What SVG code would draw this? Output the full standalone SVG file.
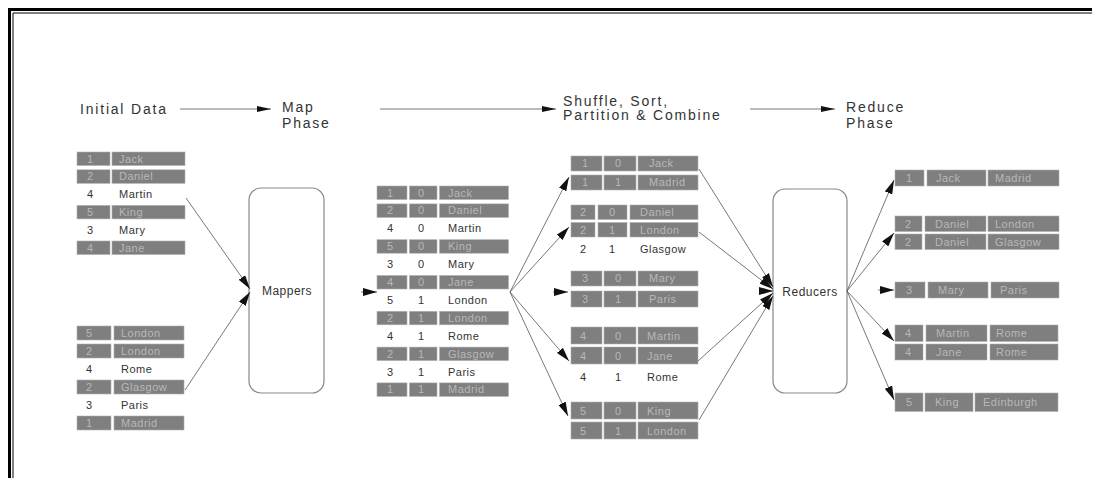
<svg xmlns="http://www.w3.org/2000/svg" width="1098" height="478" viewBox="0 0 1098 478">
<style>
.hd{font-family:"Liberation Sans",Arial,sans-serif;font-size:14px;letter-spacing:1.8px;fill:#333}
.g{fill:#7f7f7f;stroke:#b0b0b0;stroke-width:0.6}
.tg{font-family:"Liberation Sans",Arial,sans-serif;font-size:11px;letter-spacing:0.5px;fill:#b8b8b8}
.tw{font-family:"Liberation Sans",Arial,sans-serif;font-size:11px;letter-spacing:0.5px;fill:#333}
.box{fill:#fff;stroke:#888;stroke-width:1.2}
.bl{font-family:"Liberation Sans",Arial,sans-serif;font-size:12px;letter-spacing:0.5px;fill:#333;text-anchor:middle}
.c{fill:none;stroke:#555;stroke-width:0.8;marker-end:url(#ah)}
.ch{fill:none;stroke:#555;stroke-width:0.8;marker-end:url(#ah2)}
</style>
<defs>
<marker id="ah" viewBox="0 0 14 8" refX="14" refY="4" markerWidth="14" markerHeight="8" markerUnits="userSpaceOnUse" orient="auto"><path d="M0,0 L14,4 L0,8 z" fill="#111"/></marker>
<marker id="ah2" viewBox="0 0 14 6" refX="14" refY="3" markerWidth="14" markerHeight="6" markerUnits="userSpaceOnUse" orient="auto"><path d="M0,0 L14,3 L0,6 z" fill="#111"/></marker>
</defs>
<rect width="1098" height="478" fill="#fff"/>
<g id="frame" fill="none" stroke="#000">
<path d="M9.5,478 V9.5 H1092" stroke-width="3"/>
<path d="M13,478 V13 H1092" stroke-width="1"/>
</g>
<g id="headers">
<text class="hd" x="80" y="114">Initial Data</text>
<text class="hd" x="282" y="112">Map</text>
<text class="hd" x="282" y="128">Phase</text>
<text class="hd" x="563" y="106">Shuffle, Sort,</text>
<text class="hd" x="563" y="120">Partition &amp; Combine</text>
<text class="hd" x="846" y="112">Reduce</text>
<text class="hd" x="846" y="128">Phase</text>
</g>
<g id="initial-top">
<rect class="g" x="77" y="152" width="33" height="13.5"/><rect class="g" x="112" y="152" width="73" height="13.5"/>
<text class="tg" x="87" y="162.5">1</text><text class="tg" x="119" y="162.5">Jack</text>
<rect class="g" x="77" y="169.8" width="33" height="13.5"/><rect class="g" x="112" y="169.8" width="73" height="13.5"/>
<text class="tg" x="87" y="180.3">2</text><text class="tg" x="119" y="180.3">Daniel</text>
<text class="tw" x="87" y="198">4</text><text class="tw" x="119" y="198">Martin</text>
<rect class="g" x="77" y="205.4" width="33" height="13.5"/><rect class="g" x="112" y="205.4" width="73" height="13.5"/>
<text class="tg" x="87" y="215.9">5</text><text class="tg" x="119" y="215.9">King</text>
<text class="tw" x="87" y="233.5">3</text><text class="tw" x="119" y="233.5">Mary</text>
<rect class="g" x="77" y="241" width="33" height="13.5"/><rect class="g" x="112" y="241" width="73" height="13.5"/>
<text class="tg" x="87" y="251.5">4</text><text class="tg" x="119" y="251.5">Jane</text>
</g>
<g id="initial-bottom">
<rect class="g" x="77" y="326" width="34" height="14"/><rect class="g" x="114" y="326" width="70" height="14"/>
<text class="tg" x="86" y="337">5</text><text class="tg" x="121" y="337">London</text>
<rect class="g" x="77" y="344" width="34" height="14"/><rect class="g" x="114" y="344" width="70" height="14"/>
<text class="tg" x="86" y="355">2</text><text class="tg" x="121" y="355">London</text>
<text class="tw" x="86" y="373">4</text><text class="tw" x="121" y="373">Rome</text>
<rect class="g" x="77" y="380" width="34" height="14"/><rect class="g" x="114" y="380" width="70" height="14"/>
<text class="tg" x="86" y="391">2</text><text class="tg" x="121" y="391">Glasgow</text>
<text class="tw" x="86" y="409">3</text><text class="tw" x="121" y="409">Paris</text>
<rect class="g" x="77" y="416" width="34" height="14"/><rect class="g" x="114" y="416" width="70" height="14"/>
<text class="tg" x="86" y="427">1</text><text class="tg" x="121" y="427">Madrid</text>
</g>
<g id="mappers">
<rect class="box" x="249" y="188" width="75" height="205" rx="12"/>
<text class="bl" x="287" y="295">Mappers</text>
</g>
<g id="map-output">
<rect class="g" x="377" y="186" width="30" height="13.5"/><rect class="g" x="409.5" y="186" width="27.5" height="13.5"/><rect class="g" x="439.5" y="186" width="69" height="13.5"/>
<text class="tg" x="387" y="196.5">1</text><text class="tg" x="418" y="196.5">0</text><text class="tg" x="448" y="196.5">Jack</text>
<rect class="g" x="377" y="203.9" width="30" height="13.5"/><rect class="g" x="409.5" y="203.9" width="27.5" height="13.5"/><rect class="g" x="439.5" y="203.9" width="69" height="13.5"/>
<text class="tg" x="387" y="214.4">2</text><text class="tg" x="418" y="214.4">0</text><text class="tg" x="448" y="214.4">Daniel</text>
<text class="tw" x="387" y="232.3">4</text><text class="tw" x="418" y="232.3">0</text><text class="tw" x="448" y="232.3">Martin</text>
<rect class="g" x="377" y="239.7" width="30" height="13.5"/><rect class="g" x="409.5" y="239.7" width="27.5" height="13.5"/><rect class="g" x="439.5" y="239.7" width="69" height="13.5"/>
<text class="tg" x="387" y="250.2">5</text><text class="tg" x="418" y="250.2">0</text><text class="tg" x="448" y="250.2">King</text>
<text class="tw" x="387" y="268.1">3</text><text class="tw" x="418" y="268.1">0</text><text class="tw" x="448" y="268.1">Mary</text>
<rect class="g" x="377" y="275.5" width="30" height="13.5"/><rect class="g" x="409.5" y="275.5" width="27.5" height="13.5"/><rect class="g" x="439.5" y="275.5" width="69" height="13.5"/>
<text class="tg" x="387" y="286">4</text><text class="tg" x="418" y="286">0</text><text class="tg" x="448" y="286">Jane</text>
<text class="tw" x="387" y="303.9">5</text><text class="tw" x="418" y="303.9">1</text><text class="tw" x="448" y="303.9">London</text>
<rect class="g" x="377" y="311.3" width="30" height="13.5"/><rect class="g" x="409.5" y="311.3" width="27.5" height="13.5"/><rect class="g" x="439.5" y="311.3" width="69" height="13.5"/>
<text class="tg" x="387" y="321.8">2</text><text class="tg" x="418" y="321.8">1</text><text class="tg" x="448" y="321.8">London</text>
<text class="tw" x="387" y="339.7">4</text><text class="tw" x="418" y="339.7">1</text><text class="tw" x="448" y="339.7">Rome</text>
<rect class="g" x="377" y="347.1" width="30" height="13.5"/><rect class="g" x="409.5" y="347.1" width="27.5" height="13.5"/><rect class="g" x="439.5" y="347.1" width="69" height="13.5"/>
<text class="tg" x="387" y="357.6">2</text><text class="tg" x="418" y="357.6">1</text><text class="tg" x="448" y="357.6">Glasgow</text>
<text class="tw" x="387" y="375.5">3</text><text class="tw" x="418" y="375.5">1</text><text class="tw" x="448" y="375.5">Paris</text>
<rect class="g" x="377" y="382.9" width="30" height="13.5"/><rect class="g" x="409.5" y="382.9" width="27.5" height="13.5"/><rect class="g" x="439.5" y="382.9" width="69" height="13.5"/>
<text class="tg" x="387" y="393.4">1</text><text class="tg" x="418" y="393.4">1</text><text class="tg" x="448" y="393.4">Madrid</text>
</g>
<g id="shuffle-1">
<rect class="g" x="571" y="156" width="31" height="15"/><rect class="g" x="604" y="156" width="32" height="15"/><rect class="g" x="638" y="156" width="60" height="15"/>
<text class="tg" x="582" y="167">1</text><text class="tg" x="615" y="167">0</text><text class="tg" x="649" y="167">Jack</text>
<rect class="g" x="571" y="175" width="31" height="15"/><rect class="g" x="604" y="175" width="32" height="15"/><rect class="g" x="638" y="175" width="60" height="15"/>
<text class="tg" x="582" y="186">1</text><text class="tg" x="615" y="186">1</text><text class="tg" x="649" y="186">Madrid</text>
</g>
<g id="shuffle-2">
<rect class="g" x="571" y="205" width="24" height="14.5"/><rect class="g" x="598" y="205" width="29" height="14.5"/><rect class="g" x="630" y="205" width="68" height="14.5"/>
<text class="tg" x="580" y="216">2</text><text class="tg" x="609" y="216">0</text><text class="tg" x="640" y="216">Daniel</text>
<rect class="g" x="571" y="222.5" width="24" height="14.5"/><rect class="g" x="598" y="222.5" width="29" height="14.5"/><rect class="g" x="630" y="222.5" width="68" height="14.5"/>
<text class="tg" x="580" y="233.5">2</text><text class="tg" x="609" y="233.5">1</text><text class="tg" x="640" y="233.5">London</text>
<text class="tw" x="580" y="253">2</text><text class="tw" x="609" y="253">1</text><text class="tw" x="640" y="253">Glasgow</text>
</g>
<g id="shuffle-3">
<rect class="g" x="571" y="271" width="31" height="15"/><rect class="g" x="604" y="271" width="32" height="15"/><rect class="g" x="638" y="271" width="60" height="15"/>
<text class="tg" x="582" y="282">3</text><text class="tg" x="615" y="282">0</text><text class="tg" x="649" y="282">Mary</text>
<rect class="g" x="571" y="291" width="31" height="16"/><rect class="g" x="604" y="291" width="32" height="16"/><rect class="g" x="638" y="291" width="60" height="16"/>
<text class="tg" x="582" y="302.5">3</text><text class="tg" x="615" y="302.5">1</text><text class="tg" x="649" y="302.5">Paris</text>
</g>
<g id="shuffle-4">
<rect class="g" x="571" y="327" width="31" height="17"/><rect class="g" x="604" y="327" width="32" height="17"/><rect class="g" x="638" y="327" width="60" height="17"/>
<text class="tg" x="580" y="339.5">4</text><text class="tg" x="615" y="339.5">0</text><text class="tg" x="647" y="339.5">Martin</text>
<rect class="g" x="571" y="347" width="31" height="17"/><rect class="g" x="604" y="347" width="32" height="17"/><rect class="g" x="638" y="347" width="60" height="17"/>
<text class="tg" x="580" y="359.5">4</text><text class="tg" x="615" y="359.5">0</text><text class="tg" x="647" y="359.5">Jane</text>
<text class="tw" x="580" y="381">4</text><text class="tw" x="615" y="381">1</text><text class="tw" x="647" y="381">Rome</text>
</g>
<g id="shuffle-5">
<rect class="g" x="571" y="402" width="31" height="17"/><rect class="g" x="604" y="402" width="32" height="17"/><rect class="g" x="638" y="402" width="60" height="17"/>
<text class="tg" x="580" y="414.5">5</text><text class="tg" x="615" y="414.5">0</text><text class="tg" x="647" y="414.5">King</text>
<rect class="g" x="571" y="422" width="31" height="17"/><rect class="g" x="604" y="422" width="32" height="17"/><rect class="g" x="638" y="422" width="60" height="17"/>
<text class="tg" x="580" y="434.5">5</text><text class="tg" x="615" y="434.5">1</text><text class="tg" x="647" y="434.5">London</text>
</g>
<g id="reducers">
<rect class="box" x="773" y="189" width="74" height="204" rx="12"/>
<text class="bl" x="810" y="296">Reducers</text>
</g>
<g id="result-1">
<rect class="g" x="895" y="170" width="29" height="16"/><rect class="g" x="927" y="170" width="59" height="16"/><rect class="g" x="988" y="170" width="71" height="16"/>
<text class="tg" x="906" y="182">1</text><text class="tg" x="936" y="182">Jack</text><text class="tg" x="995" y="182">Madrid</text>
</g>
<g id="result-2">
<rect class="g" x="895" y="216" width="27" height="15.5"/><rect class="g" x="925" y="216" width="61" height="15.5"/><rect class="g" x="988" y="216" width="71" height="15.5"/>
<text class="tg" x="905" y="227.5">2</text><text class="tg" x="935" y="227.5">Daniel</text><text class="tg" x="995" y="227.5">London</text>
<rect class="g" x="895" y="234" width="27" height="15.5"/><rect class="g" x="925" y="234" width="61" height="15.5"/><rect class="g" x="988" y="234" width="71" height="15.5"/>
<text class="tg" x="905" y="245.5">2</text><text class="tg" x="935" y="245.5">Daniel</text><text class="tg" x="995" y="245.5">Glasgow</text>
</g>
<g id="result-3">
<rect class="g" x="895" y="282" width="30" height="16"/><rect class="g" x="928" y="282" width="60" height="16"/><rect class="g" x="991" y="282" width="68" height="16"/>
<text class="tg" x="906" y="294">3</text><text class="tg" x="938" y="294">Mary</text><text class="tg" x="1000" y="294">Paris</text>
</g>
<g id="result-4">
<rect class="g" x="895" y="325" width="28" height="16.5"/><rect class="g" x="926" y="325" width="61" height="16.5"/><rect class="g" x="990" y="325" width="68" height="16.5"/>
<text class="tg" x="905" y="337">4</text><text class="tg" x="936" y="337">Martin</text><text class="tg" x="996" y="337">Rome</text>
<rect class="g" x="895" y="344" width="28" height="16"/><rect class="g" x="926" y="344" width="61" height="16"/><rect class="g" x="990" y="344" width="68" height="16"/>
<text class="tg" x="905" y="356">4</text><text class="tg" x="936" y="356">Jane</text><text class="tg" x="996" y="356">Rome</text>
</g>
<g id="result-5">
<rect class="g" x="895" y="393" width="28" height="18.5"/><rect class="g" x="925" y="393" width="48" height="18.5"/><rect class="g" x="975" y="393" width="83" height="18.5"/>
<text class="tg" x="906" y="406">5</text><text class="tg" x="935" y="406">King</text><text class="tg" x="983" y="406">Edinburgh</text>
</g>
<g id="connectors">
<path class="ch" d="M180,109 H271"/>
<path class="ch" d="M380,109 H556"/>
<path class="ch" d="M750,109 H835"/>
<path class="c" d="M186,198 L250,289"/>
<path class="c" d="M185,390 L250,292"/>
<path class="c" d="M361,292 H377"/>
<path class="c" d="M510,292 L569,177"/>
<path class="c" d="M510,292 L569,227"/>
<path class="c" d="M553,292 H568"/>
<path class="c" d="M510,292 L569,361"/>
<path class="c" d="M510,292 L568,416"/>
<path class="c" d="M699,169 L773,287"/>
<path class="c" d="M699,232 L773,289"/>
<path class="c" d="M759,291 H773"/>
<path class="c" d="M698,361 L773,293"/>
<path class="c" d="M699,420 L773,296"/>
<path class="c" d="M847,291 L894,180"/>
<path class="c" d="M847,291 L894,233"/>
<path class="c" d="M878,290 H894"/>
<path class="c" d="M847,291 L894,341"/>
<path class="c" d="M847,291 L894,400"/>
</g>
</svg>
